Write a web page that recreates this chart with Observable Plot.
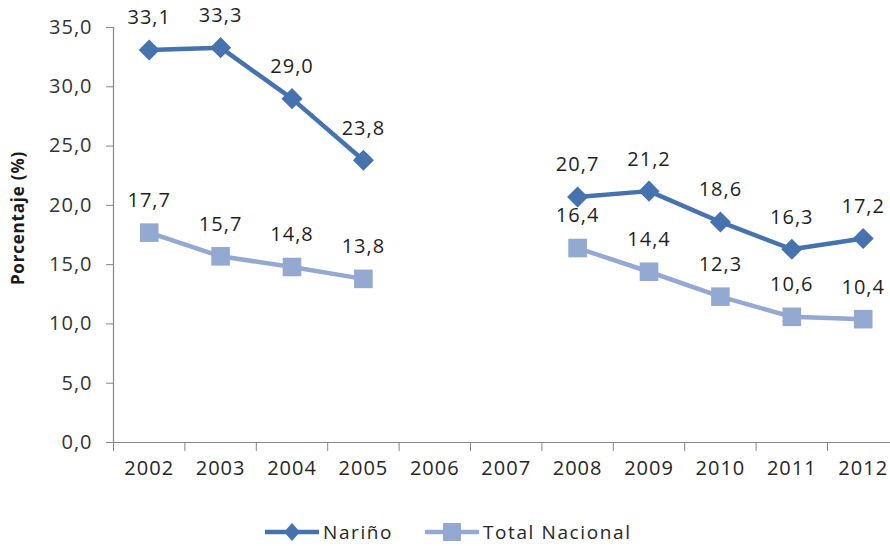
<!DOCTYPE html>
<html>
<head>
<meta charset="utf-8">
<script src="https://cdn.jsdelivr.net/npm/d3@7"></script>
<script src="https://cdn.jsdelivr.net/npm/@observablehq/plot@0.6"></script>
<style>
  html, body { margin: 0; padding: 0; background: #fff; }
  #chart { position: relative; width: 890px; height: 546px; overflow: hidden; }
  #legend { position: absolute; left: 0; top: 520px; width: 890px; height: 26px;
    font-family: "Open Sans", sans-serif; font-size: 19px; color: #262626; letter-spacing: 1.6px; line-height: 24px; }
  .item { position: absolute; top: 0; height: 24px; display: flex; align-items: center; }
  .item svg { display: block; margin-right: 4px; }
</style>
</head>
<body>
<div id="chart"></div>
<script>
const years = [2002, 2003, 2004, 2005, 2006, 2007, 2008, 2009, 2010, 2011, 2012];
const narino = [33.1, 33.3, 29.0, 23.8, null, null, 20.7, 21.2, 18.6, 16.3, 17.2];
const nacional = [17.7, 15.7, 14.8, 13.8, null, null, 16.4, 14.4, 12.3, 10.6, 10.4];
const yTicks = [0, 5, 10, 15, 20, 25, 30, 35];
const seriesNames = ["Nariño", "Total Nacional"];
const colors = ["#4673AD", "#93A9D2"];
const yTitle = "Porcentaje (%)";

const rows = [];
[narino, nacional].forEach((vals, si) => {
  years.forEach((yr, i) => rows.push({series: seriesNames[si], year: yr, value: vals[i] == null ? NaN : vals[i]}));
});
const defined = rows.filter(d => !isNaN(d.value));
const fmt = v => v.toFixed(1).replace(".", ",");
const bounds = years.map(y => y - 0.5);

const plot = Plot.plot({
  width: 890,
  height: 518,
  marginLeft: 113,
  marginRight: 0,
  marginTop: 27,
  marginBottom: 76,
  style: {fontFamily: "Open Sans, sans-serif", fontSize: "20px", color: "#333", background: "#fff", overflow: "visible", letterSpacing: "1px"},
  x: {domain: [years[0] - 0.5, years[years.length - 1] + 0.5], range: [113, 113 + 11 * 71.4]},
  y: {domain: [0, 35], range: [442, 27]},
  marks: [
    Plot.axisY({ticks: yTicks, tickSize: 7, tickPadding: 14, tickFormat: fmt, label: null, stroke: "#868686", fill: "#333"}),
    Plot.axisX({ticks: bounds, tickSize: 9, tickFormat: () => "", label: null, stroke: "#868686"}),
    Plot.axisX({ticks: years, tickSize: 0, tickPadding: 18, tickFormat: d => String(d), label: null, fill: "#262626"}),
    Plot.ruleY([0], {stroke: "#868686", strokeWidth: 1.2}),
    Plot.ruleX([bounds[0]], {y1: 0, y2: 35, stroke: "#868686", strokeWidth: 1.2}),
    Plot.line(rows, {x: "year", y: "value", z: "series", stroke: d => d.series === seriesNames[0] ? colors[0] : colors[1], strokeWidth: 4.5}),
    Plot.dot(defined.filter(d => d.series === seriesNames[1]), {x: "year", y: "value", symbol: "square", r: 10.5, fill: colors[1], stroke: "none"}),
    Plot.dot(defined.filter(d => d.series === seriesNames[0]), {x: "year", y: "value", symbol: "diamond2", r: 9.5, fill: colors[0], stroke: "none"}),
    Plot.text(defined, {x: "year", y: "value", text: d => fmt(d.value), dy: -32, fill: "#1f1f1f", fontSize: 20})
  ]
});
document.getElementById("chart").appendChild(plot);

// y-axis title
const svg = d3.select(plot);
svg.append("text")
  .attr("transform", "translate(24,218) rotate(-90)")
  .attr("text-anchor", "middle")
  .attr("font-weight", "bold")
  .attr("font-size", "17px")
  .attr("letter-spacing", "0.8px")
  .attr("fill", "#1a1a1a")
  .text(yTitle);

// legend
const legend = d3.select("#chart").append("div").attr("id", "legend");
const lefts = [265, 425];
seriesNames.forEach((name, i) => {
  const item = legend.append("div").attr("class", "item").style("left", lefts[i] + "px");
  const s = item.append("svg").attr("width", 54).attr("height", 24);
  s.append("line").attr("x1", 0).attr("x2", 54).attr("y1", 12).attr("y2", 12).attr("stroke", colors[i]).attr("stroke-width", 4.5);
  if (i === 0) {
    s.append("path").attr("d", "M27,3 L35,12 L27,21 L19,12 Z").attr("fill", colors[i]);
  } else {
    s.append("rect").attr("x", 18).attr("y", 3).attr("width", 18).attr("height", 18).attr("fill", colors[i]);
  }
  item.append("span").text(name);
});
</script>
</body>
</html>
